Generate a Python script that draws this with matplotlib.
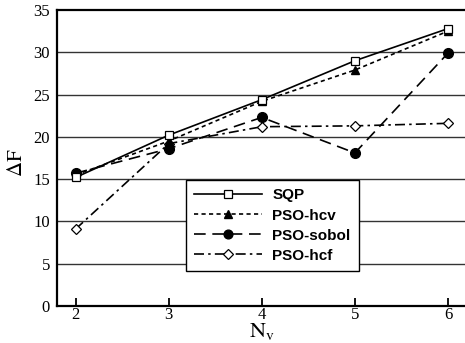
import matplotlib
matplotlib.use("Agg")
import matplotlib.pyplot as plt

plt.rcParams["mathtext.fontset"] = "stix"

nv = [2, 3, 4, 5, 6]
sqp = [15.2, 20.2, 24.4, 29.0, 32.8]
pso_hcv = [15.5, 19.5, 24.2, 27.9, 32.5]
pso_sobol = [15.7, 18.6, 22.3, 18.1, 29.9]
pso_hcf = [9.1, 19.2, 21.2, 21.3, 21.6]
yticks = [0, 5, 10, 15, 20, 25, 30, 35]
xticks = [2, 3, 4, 5, 6]

W, H = 465, 343
fig = plt.figure(figsize=(W / 100, H / 100), dpi=100)
left, right = 57, 466.6
top, bottom = 10, 306
ax = fig.add_axes([left / W, 1 - bottom / H, (right - left) / W, (bottom - top) / H])

ax.set_xlim(1.8, 6.2)
ax.set_ylim(0, 35)
for y in yticks[1:-1]:
    ax.axhline(y, color="#333333", lw=1.0, zorder=1)

ax.plot(nv, sqp, color="black", lw=1.2, ls="-", marker="s", ms=6,
        mfc="white", mec="black", mew=0.9, label="SQP", zorder=5)
ax.plot(nv, pso_hcv, color="black", lw=1.2, ls=(0, (2.5, 2)), marker="^", ms=6,
        mfc="black", mec="black", label="PSO-hcv", zorder=4)
ax.plot(nv, pso_sobol, color="black", lw=1.2, ls=(0, (7, 4)), marker="o", ms=7,
        mfc="black", mec="black", label="PSO-sobol", zorder=3)
ax.plot(nv, pso_hcf, color="black", lw=1.2, ls=(0, (6, 2.5, 1.5, 2.5)), marker="D", ms=5.5,
        mfc="white", mec="black", mew=0.9, label="PSO-hcf", zorder=2)

ax.set_xticks(xticks)
ax.set_yticks(yticks)
serif = "Liberation Serif"
ax.set_xticklabels([str(v) for v in xticks], family=serif, fontsize=12)
ax.set_yticklabels([str(v) for v in yticks], family=serif, fontsize=12)
ax.tick_params(axis="x", direction="in", length=6, width=1.3, pad=1)
ax.tick_params(axis="y", length=0, pad=5)
for s in ["left", "bottom", "top"]:
    ax.spines[s].set_linewidth(1.6)
ax.spines["right"].set_visible(False)

ax.set_xlabel(r"$\mathrm{N}_{\mathrm{v}}$", fontsize=16)
ax.xaxis.set_label_coords((262 - left) / (right - left), -(321 - bottom) / (bottom - top))
ax.xaxis.label.set_va("top")
ax.set_ylabel(r"$\Delta\mathrm{F}$", fontsize=15)
ax.yaxis.set_label_coords(-(left - 26) / (right - left), (bottom - 163) / (bottom - top))

leg = ax.legend(loc="upper left", bbox_to_anchor=((186 - left) / (right - left), 1 - (180 - top) / (bottom - top)),
                prop={"family": "Liberation Sans", "weight": "bold", "size": 11},
                handlelength=4.4, frameon=True, fancybox=False, framealpha=1,
                edgecolor="black", borderpad=0.55, labelspacing=0.4, handletextpad=0.7,
                borderaxespad=0, markerscale=0.9)
leg.get_frame().set_linewidth(1.0)

fig.savefig("out.png", dpi=100)
